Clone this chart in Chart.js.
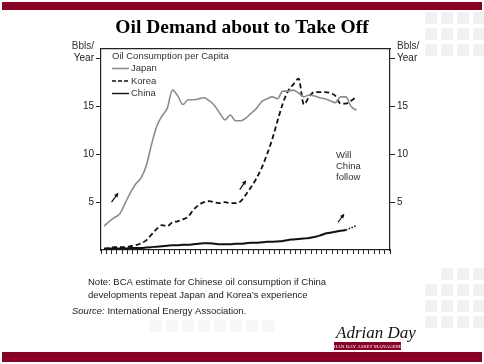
<!DOCTYPE html>
<html>
<head>
<meta charset="utf-8">
<script src="https://cdn.jsdelivr.net/npm/chart.js@4.4.0/dist/chart.umd.min.js"></script>
<style>
body { margin: 0; background: #fff; }
canvas { display: block; }
</style>
</head>
<body>
<canvas id="myChart" width="484" height="364"></canvas>
<script>
// anos e consumo de petroleo per capita (Bbls/Year)
var anos = [1960, 1961, 1962, 1963, 1964, 1965, 1966, 1967, 1968, 1969,
    1970, 1971, 1972, 1973, 1974, 1975, 1976, 1977, 1978, 1979,
    1980, 1981, 1982, 1983, 1984, 1985, 1986, 1987, 1988, 1989,
    1990, 1991, 1992, 1993, 1994, 1995, 1996, 1997, 1998, 1999,
    2000, 2001, 2002, 2003, 2004, 2005, 2006, 2007, 2008];

var japao = [2.5, 3.0, 3.4, 3.8, 4.9, 6.0, 6.9, 7.5, 8.8, 11.0,
    12.9, 14.0, 14.8, 16.7, 16.1, 15.2, 15.7, 15.7, 15.8, 15.9,
    15.6, 15.1, 14.3, 13.6, 14.1, 13.5, 13.5, 13.8, 14.3, 14.8,
    15.5, 15.8, 16.0, 15.8, 16.6, 16.6, 16.7, 16.4, 16.0, 16.2,
    16.1, 15.9, 15.8, 15.6, 15.4, 16.0, 16.0, 15.0, 14.6];

var coreia = [0.1, 0.2, 0.3, 0.3, 0.3, 0.4, 0.5, 0.7, 1.0, 1.6,
    2.2, 2.6, 2.5, 2.9, 3.0, 3.2, 3.5, 4.2, 4.7, 5.0,
    5.1, 5.0, 4.9, 5.0, 4.9, 4.9, 5.1, 5.8, 6.6, 7.5,
    8.6, 10.0, 11.6, 13.5, 15.3, 16.6, 17.3, 17.9, 15.2, 16.0,
    16.5, 16.5, 16.5, 16.4, 16.1, 15.3, 15.3, 15.6, 16.0];

var china = [0.15, 0.15, 0.15, 0.15, 0.15, 0.2, 0.2, 0.2, 0.25, 0.3,
    0.35, 0.4, 0.45, 0.5, 0.5, 0.55, 0.55, 0.6, 0.65, 0.7,
    0.7, 0.65, 0.6, 0.6, 0.6, 0.65, 0.65, 0.7, 0.75, 0.75,
    0.8, 0.85, 0.85, 0.9, 0.95, 1.05, 1.1, 1.15, 1.2, 1.25,
    1.35, 1.5, 1.7, 1.8, 1.9, 2.0, 2.1];

// estimativa BCA (pontilhado)
var anosEstimativa = [2006, 2007, 2008];
var chinaEstimativa = [2.1, 2.3, 2.55];

var ticksY = [5, 10, 15, 20];
var ticksXLabel = [1960, 1970, 1980, 1990, 2000, 2010];

function pontos(xs, ys) {
    var lista = [];
    for (var i = 0; i < ys.length; i++) {
        lista.push({ x: xs[i], y: ys[i] });
    }
    return lista;
}

var fonteEixo = { family: 'Liberation Sans, Arial, sans-serif', size: 10 };

// fundo, faixas vermelhas, textos, legenda e setas
const decoracao = {
    id: 'decoracao',
    beforeDraw(chart) {
        const ctx = chart.ctx;
        ctx.save();
        ctx.fillStyle = '#ffffff';
        ctx.fillRect(0, 0, 484, 364);
        // quadradinhos cinza do fundo (bem claros)
        ctx.fillStyle = '#f1f1f1';
        var cols = [425, 441, 457, 473];
        var rows = [12, 28, 44];
        for (var a = 0; a < cols.length; a++) {
            for (var b = 0; b < rows.length; b++) {
                ctx.fillRect(cols[a], rows[b], 12, 12);
            }
        }
        var rows2 = [268, 284, 300, 316];
        for (var a = 0; a < cols.length; a++) {
            for (var b = 0; b < rows2.length; b++) {
                if (a + b >= 1) ctx.fillRect(cols[a], rows2[b], 12, 12);
            }
        }
        ctx.fillStyle = '#f7f7f7';
        for (var c = 150; c < 270; c += 16) {
            ctx.fillRect(c, 320, 12, 12);
        }
        // faixas
        ctx.fillStyle = '#8a0025';
        ctx.fillRect(2, 2, 480, 8);
        ctx.fillRect(2, 352, 480, 10);
        ctx.restore();
    },
    afterDraw(chart) {
        const ctx = chart.ctx;
        const x = chart.scales.x;
        const y = chart.scales.y;
        ctx.save();

        // titulo
        ctx.fillStyle = '#000';
        ctx.textAlign = 'center';
        ctx.textBaseline = 'alphabetic';
        ctx.font = 'bold 19.5px "Liberation Serif", "Times New Roman", serif';
        ctx.fillText('Oil Demand about to Take Off', 242, 33);

        // "Bbls/" acima do tick de 20
        ctx.font = '10px "Liberation Sans", Arial, sans-serif';
        ctx.fillStyle = '#333';
        ctx.textBaseline = 'middle';
        var y20 = y.getPixelForValue(20);
        ctx.textAlign = 'right';
        ctx.fillText('Bbls/', 94, y20 - 12);
        ctx.textAlign = 'left';
        ctx.fillText('Bbls/', 397, y20 - 12);

        // legenda
        ctx.textAlign = 'left';
        ctx.font = '9.5px "Liberation Sans", Arial, sans-serif';
        ctx.fillStyle = '#333';
        ctx.fillText('Oil Consumption per Capita', 112, 56);
        var itens = [
            { nome: 'Japan', cor: '#8c8c8c', dash: [], larg: 1.6 },
            { nome: 'Korea', cor: '#111', dash: [4, 2], larg: 1.6 },
            { nome: 'China', cor: '#111', dash: [], larg: 1.4 }
        ];
        for (var i = 0; i < itens.length; i++) {
            var ly = 68.5 + i * 12.5;
            ctx.strokeStyle = itens[i].cor;
            ctx.lineWidth = itens[i].larg;
            ctx.setLineDash(itens[i].dash);
            ctx.beginPath();
            ctx.moveTo(112, ly);
            ctx.lineTo(129, ly);
            ctx.stroke();
            ctx.setLineDash([]);
            ctx.fillText(itens[i].nome, 131, ly);
        }

        // "Will China follow"
        ctx.fillText('Will', 336, 155);
        ctx.fillText('China', 336, 166);
        ctx.fillText('follow', 336, 177);

        // setas
        ctx.strokeStyle = '#111';
        ctx.fillStyle = '#111';
        ctx.lineWidth = 1.2;
        var setas = [
            [1961.4, 5.0, 1962.6, 5.9],
            [1985.8, 6.3, 1986.9, 7.2],
            [2004.5, 2.9, 2005.6, 3.7]
        ];
        for (var s = 0; s < setas.length; s++) {
            var x1 = x.getPixelForValue(setas[s][0]);
            var y1 = y.getPixelForValue(setas[s][1]);
            var x2 = x.getPixelForValue(setas[s][2]);
            var y2 = y.getPixelForValue(setas[s][3]);
            ctx.beginPath();
            ctx.moveTo(x1, y1);
            ctx.lineTo(x2, y2);
            ctx.stroke();
            var ang = Math.atan2(y2 - y1, x2 - x1);
            ctx.beginPath();
            ctx.moveTo(x2 + Math.cos(ang), y2 + Math.sin(ang));
            ctx.lineTo(x2 - 4 * Math.cos(ang - 0.55), y2 - 4 * Math.sin(ang - 0.55));
            ctx.lineTo(x2 - 4 * Math.cos(ang + 0.55), y2 - 4 * Math.sin(ang + 0.55));
            ctx.closePath();
            ctx.fill();
        }

        // notas
        ctx.fillStyle = '#222';
        ctx.font = '9.5px "Liberation Sans", Arial, sans-serif';
        ctx.fillText('Note: BCA estimate for Chinese oil consumption if China', 88, 282);
        ctx.fillText('developments repeat Japan and Korea\u2019s experience', 88, 295);
        ctx.font = 'italic 9.5px "Liberation Sans", Arial, sans-serif';
        ctx.fillText('Source:', 72, 311);
        var w = ctx.measureText('Source: ').width;
        ctx.font = '9.5px "Liberation Sans", Arial, sans-serif';
        ctx.fillText('International Energy Association.', 72 + w, 311);

        // assinatura
        ctx.font = 'italic 17px "Liberation Serif", serif';
        ctx.fillStyle = '#111';
        ctx.fillText('Adrian Day', 336, 334);
        ctx.fillStyle = '#8a0025';
        ctx.fillRect(334, 342, 67, 8);
        ctx.fillStyle = '#fff';
        ctx.font = '5px "Liberation Serif", serif';
        ctx.textAlign = 'center';
        ctx.fillText('ADRIAN DAY ASSET MANAGEMENT', 367.5, 346.3);

        ctx.restore();
    }
};

const dataA = {
    datasets: [
        {
            label: 'Japan',
            data: pontos(anos, japao),
            borderColor: '#8c8c8c',
            borderWidth: 1.6,
            pointRadius: 0,
            cubicInterpolationMode: 'monotone'
        },
        {
            label: 'Korea',
            data: pontos(anos, coreia),
            borderColor: '#111',
            borderWidth: 1.8,
            borderDash: [5, 3],
            pointRadius: 0,
            cubicInterpolationMode: 'monotone'
        },
        {
            label: 'China',
            data: pontos(anos, china),
            borderColor: '#111',
            borderWidth: 2,
            pointRadius: 0,
            cubicInterpolationMode: 'monotone'
        },
        {
            label: 'China (estimate)',
            data: pontos(anosEstimativa, chinaEstimativa),
            borderColor: '#111',
            borderWidth: 1.6,
            borderDash: [1.5, 1.5],
            pointRadius: 0
        }
    ]
};

const configA = {
    type: 'line',
    data: dataA,
    options: {
        responsive: false,
        animation: false,
        layout: { padding: 0 },
        plugins: {
            legend: { display: false },
            tooltip: { enabled: false }
        },
        scales: {
            x: {
                type: 'linear',
                position: 'bottom',
                min: 1959.4,
                max: 2014.4,
                grid: { drawOnChartArea: false, tickLength: 4, color: '#222', lineWidth: 1 },
                border: { color: '#222', width: 1.2 },
                ticks: {
                    stepSize: 1,
                    autoSkip: false,
                    includeBounds: false,
                    maxRotation: 0,
                    padding: 2,
                    color: '#222',
                    font: fonteEixo,
                    callback: function (v) {
                        return ticksXLabel.indexOf(v) != -1 ? String(v) : '';
                    }
                },
                afterFit: function (s) { s.height = 114; }
            },
            xTop: {
                type: 'linear',
                position: 'top',
                min: 1959.4,
                max: 2014.4,
                grid: { display: false },
                border: { color: '#222', width: 1.2 },
                ticks: { display: false },
                afterFit: function (s) { s.height = 49; }
            },
            y: {
                position: 'left',
                min: 0,
                max: 21,
                grid: { drawOnChartArea: false, tickLength: 5, color: '#222' },
                border: { color: '#222', width: 1.2 },
                afterBuildTicks: function (s) {
                    s.ticks = ticksY.map(function (v) { return { value: v }; });
                },
                ticks: {
                    padding: 2,
                    color: '#222',
                    font: fonteEixo,
                    callback: function (v) { return v == 20 ? 'Year' : v; }
                },
                afterFit: function (s) { s.width = 101; }
            },
            yRight: {
                position: 'right',
                min: 0,
                max: 21,
                grid: { drawOnChartArea: false, tickLength: 5, color: '#222' },
                border: { color: '#222', width: 1.2 },
                afterBuildTicks: function (s) {
                    s.ticks = ticksY.map(function (v) { return { value: v }; });
                },
                ticks: {
                    padding: 2,
                    color: '#222',
                    font: fonteEixo,
                    callback: function (v) { return v == 20 ? 'Year' : v; }
                },
                afterFit: function (s) { s.width = 94; }
            }
        }
    },
    plugins: [decoracao]
};

const myChart = new Chart(
    document.getElementById('myChart'),
    configA
);
</script>
</body>
</html>
